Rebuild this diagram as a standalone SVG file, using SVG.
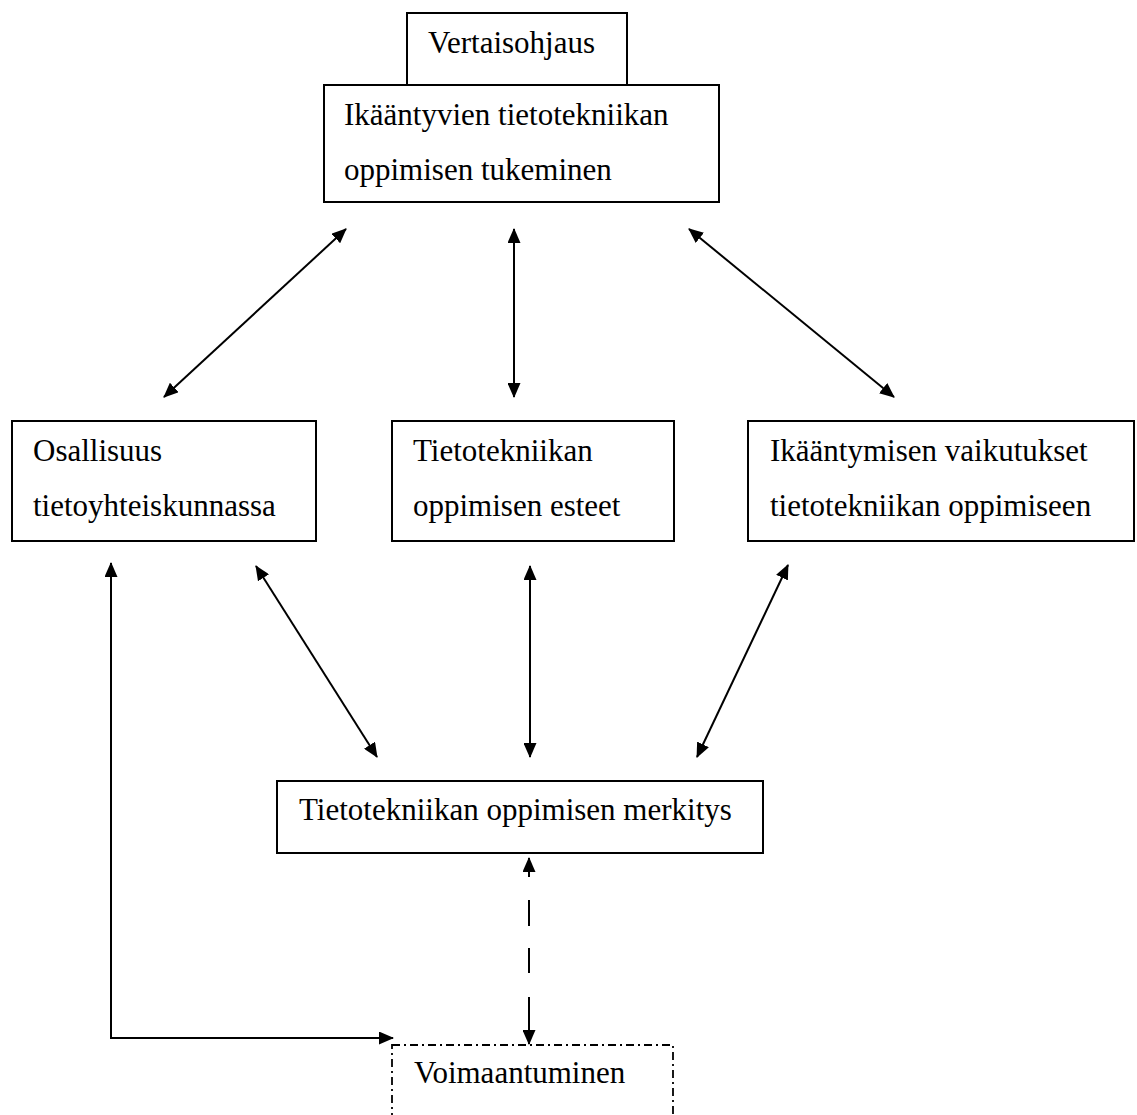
<svg xmlns="http://www.w3.org/2000/svg" width="1137" height="1115" viewBox="0 0 1137 1115">
<style>
.box{fill:#fff;stroke:#000;stroke-width:2}
.dd{fill:#fff;stroke:#000;stroke-width:1.8;stroke-dasharray:8 4 2 4}
.t{font-family:"Liberation Serif","Times New Roman",serif;font-size:31px;fill:#000}
.c{fill:none;stroke:#000;stroke-width:2;marker-start:url(#ah);marker-end:url(#ah)}
</style>
<defs>
<marker id="ah" viewBox="0 0 15 13" refX="14" refY="6.5" markerWidth="15" markerHeight="13" markerUnits="userSpaceOnUse" orient="auto-start-reverse">
<path d="M0,0 L15,6.5 L0,13 z" fill="#000"/>
</marker>
</defs>
<rect width="1137" height="1115" fill="#fff"/>
<g id="connectors">
<line class="c" x1="346" y1="229" x2="164" y2="397"/>
<line class="c" x1="514" y1="229" x2="514" y2="397"/>
<line class="c" x1="689" y1="229" x2="894" y2="397"/>
<line class="c" x1="256" y1="566" x2="377" y2="757"/>
<line class="c" x1="530" y1="566" x2="530" y2="757"/>
<line class="c" x1="788" y1="565" x2="697" y2="757"/>
<path class="c" d="M529,858 V877 M529,900 V926 M529,948 V973 M529,997 V1044"/>
<path class="c" d="M111,563 V1038 H393"/>
</g>
<g id="vertaisohjaus">
<rect class="box" x="407" y="13" width="220" height="72"/>
<text class="t" x="428" y="53">Vertaisohjaus</text>
</g>
<g id="tukeminen">
<rect class="box" x="324" y="85" width="395" height="117"/>
<text class="t" x="344" y="125">Ikääntyvien tietotekniikan</text>
<text class="t" x="344" y="180">oppimisen tukeminen</text>
</g>
<g id="osallisuus">
<rect class="box" x="12" y="421" width="304" height="120"/>
<text class="t" x="33" y="461">Osallisuus</text>
<text class="t" x="33" y="516">tietoyhteiskunnassa</text>
</g>
<g id="esteet">
<rect class="box" x="392" y="421" width="282" height="120"/>
<text class="t" x="413" y="461">Tietotekniikan</text>
<text class="t" x="413" y="516">oppimisen esteet</text>
</g>
<g id="vaikutukset">
<rect class="box" x="748" y="421" width="386" height="120"/>
<text class="t" x="770" y="461">Ikääntymisen vaikutukset</text>
<text class="t" x="770" y="516">tietotekniikan oppimiseen</text>
</g>
<g id="merkitys">
<rect class="box" x="277" y="781" width="486" height="72"/>
<text class="t" x="299" y="820">Tietotekniikan oppimisen merkitys</text>
</g>
<g id="voimaantuminen">
<rect class="dd" x="392" y="1045" width="281" height="90"/>
<text class="t" x="414" y="1083">Voimaantuminen</text>
</g>
</svg>
